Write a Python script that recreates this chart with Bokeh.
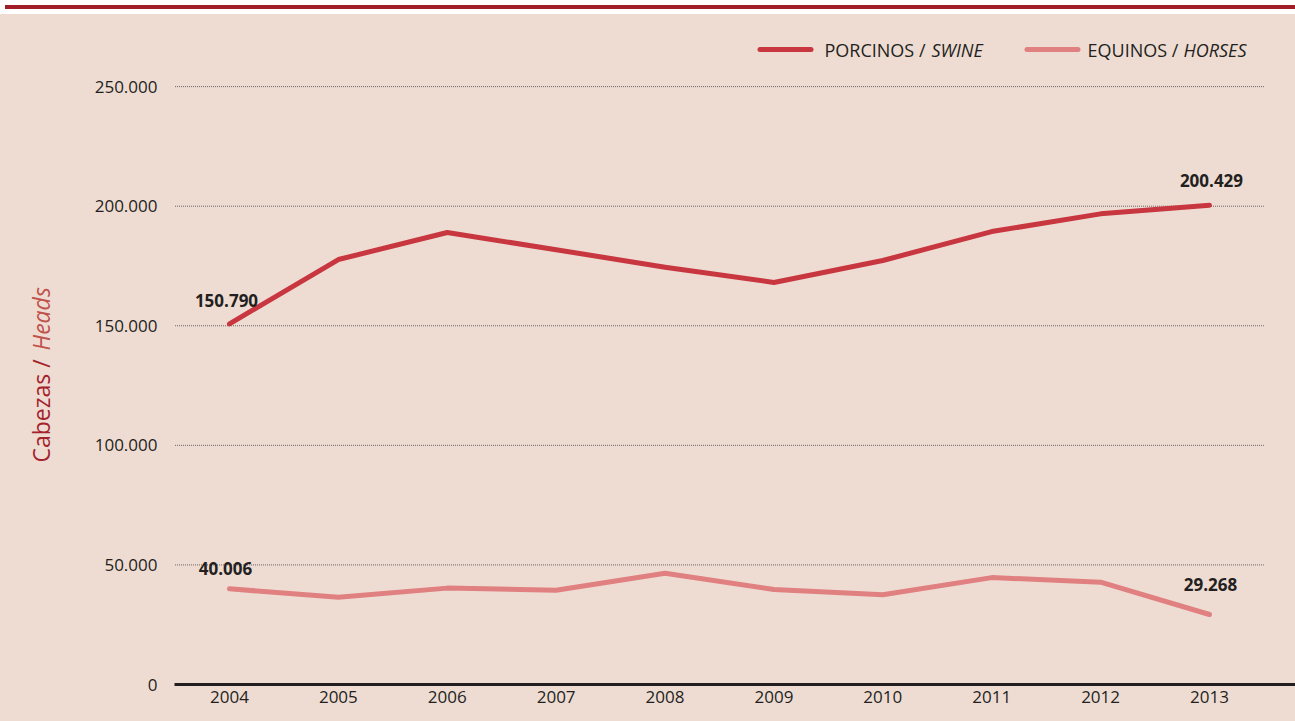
import math
from bokeh.plotting import figure
from bokeh.models import ColumnDataSource, Label, BoxAnnotation, Div, FixedTicker, Range1d
from bokeh.layouts import column, row
from bokeh.core.properties import value
from bokeh.embed import file_html
from bokeh.resources import INLINE

# ---------------- data ----------------
years = [2004, 2005, 2006, 2007, 2008, 2009, 2010, 2011, 2012, 2013]
porcinos = [150790, 177700, 189000, 181800, 174500, 168100, 177300, 189400, 196800, 200429]
equinos = [40006, 36500, 40300, 39400, 46500, 39700, 37500, 44700, 42800, 29268]

y_ticks = [0, 50000, 100000, 150000, 200000, 250000]
y_tick_labels = ["0", "50.000", "100.000", "150.000", "200.000", "250.000"]
x_tick_labels = [str(y) for y in years]

series_es = ["PORCINOS / ", "EQUINOS / "]
series_en = ["SWINE", "HORSES"]
y_label_es = "Cabezas / "
y_label_en = "Heads"

annot_years = [2004, 2004, 2013, 2013]
annot_values = [150790, 40006, 200429, 29268]
annot_texts = ["150.790", "40.006", "200.429", "29.268"]

# ---------------- style ----------------
BG = "#EEDCD3"
DARK = "#231F20"
C_POR = "#C83640"
C_EQU = "#E08080"
TOP_RED = "#A11D27"
FONT = "Open Sans"
annot_dx = [-3, -4, 2, 1]
annot_dy = [-23, -20, -25, -30]

FIG_H = 707
LABEL_W = 80
MAIN_W = 1295 - LABEL_W

p = figure(width=MAIN_W, height=FIG_H, output_backend="svg", toolbar_location=None,
           x_range=Range1d(2003.495, 2013.79), y_range=Range1d(0, 273470),
           min_border_left=94, min_border_right=0, min_border_top=16, min_border_bottom=37)
p.background_fill_color = BG
p.border_fill_color = BG
p.outline_line_color = None
p.xgrid.visible = False
p.ygrid.visible = False

# y axis
p.yaxis.ticker = FixedTicker(ticks=y_ticks)
p.yaxis.major_label_overrides = {t: l for t, l in zip(y_ticks, y_tick_labels)}
p.yaxis.axis_line_color = None
p.yaxis.major_tick_line_color = None
p.yaxis.minor_tick_line_color = None
p.yaxis.major_label_standoff = 11
p.yaxis.major_label_text_font = FONT
p.yaxis.major_label_text_font_size = "17px"
p.yaxis.major_label_text_color = DARK

# x axis
p.xaxis.ticker = FixedTicker(ticks=years)
p.xaxis.major_label_overrides = {t: l for t, l in zip(years, x_tick_labels)}
p.xaxis.axis_line_color = DARK
p.xaxis.axis_line_width = 3
p.xaxis.major_tick_line_color = None
p.xaxis.minor_tick_line_color = None
p.xaxis.major_label_standoff = 0
p.xaxis.major_label_text_font = FONT
p.xaxis.major_label_text_font_size = "17px"
p.xaxis.major_label_text_color = DARK

# dotted gridlines spanning the category band
gx0 = years[0] - 0.5
gx1 = years[-1] + 0.5
grid_vals = y_ticks[1:]
p.segment(x0=[gx0] * len(grid_vals), x1=[gx1] * len(grid_vals), y0=grid_vals, y1=grid_vals,
          line_color="#6A6363", line_width=1, line_dash="1 1")

# series
p.line(years, porcinos, line_color=C_POR, line_width=5, line_cap="round", line_join="round")
p.line(years, equinos, line_color=C_EQU, line_width=5, line_cap="round", line_join="round")

# value labels
src = ColumnDataSource(dict(x=annot_years, y=annot_values, t=annot_texts, dx=annot_dx, dy=annot_dy))
p.text(x="x", y="y", text="t", source=src, x_offset="dx", y_offset="dy",
       text_align="center", text_baseline="middle", text_font=value(FONT),
       text_font_size="17px", text_font_style="bold", text_color=DARK)

# legend (manual, screen units relative to frame)
legend_swatch_x = [583, 850]
legend_text_x = [650, 913]
legend_en_x = [757, 1009]
legend_y = 635
for c, sx, tx, ex, es, en in zip([C_POR, C_EQU], legend_swatch_x, legend_text_x, legend_en_x,
                                 series_es, series_en):
    p.add_layout(BoxAnnotation(left=sx, right=sx + 56, bottom=legend_y - 2.5, top=legend_y + 2.5,
                               left_units="screen", right_units="screen",
                               bottom_units="screen", top_units="screen",
                               fill_color=c, fill_alpha=1, line_color=None, border_radius=3))
    p.add_layout(Label(x=tx, y=legend_y, x_units="screen", y_units="screen", text=es,
                       text_font=FONT, text_font_size="18px", text_color=DARK,
                       text_align="left", text_baseline="middle"))
    p.add_layout(Label(x=ex, y=legend_y, x_units="screen", y_units="screen", text=en,
                       text_font=FONT, text_font_size="18px", text_color=DARK,
                       text_font_style="italic", text_align="left", text_baseline="middle"))

# y axis title panel (separate narrow figure, two text styles)
lab = figure(width=LABEL_W, height=FIG_H, output_backend="svg", toolbar_location=None,
             x_range=Range1d(0, 1), y_range=Range1d(0, 1),
             x_axis_location=None, y_axis_location=None,
             min_border=0, min_border_left=0, min_border_right=0,
             min_border_top=0, min_border_bottom=0)
lab.background_fill_color = BG
lab.border_fill_color = BG
lab.outline_line_color = None
lab.xgrid.visible = False
lab.ygrid.visible = False
lab.add_layout(Label(x=40, y=222, x_units="screen", y_units="screen", text=y_label_es,
                     angle=math.pi / 2, text_font=FONT, text_font_size="23px",
                     text_color="#A3222C", text_align="left", text_baseline="middle"))
lab.add_layout(Label(x=40, y=334, x_units="screen", y_units="screen", text=y_label_en,
                     angle=math.pi / 2, text_font=FONT, text_font_size="23px",
                     text_font_style="italic", text_color="#C0524C",
                     text_align="left", text_baseline="middle"))

top_bar = Div(width=1295, height=4, styles={"background-color": TOP_RED})
body = row(lab, p, spacing=0, styles={"background-color": BG})
layout = column(top_bar, body, spacing=0)

open("out.html", "w").write(file_html(layout, INLINE))
